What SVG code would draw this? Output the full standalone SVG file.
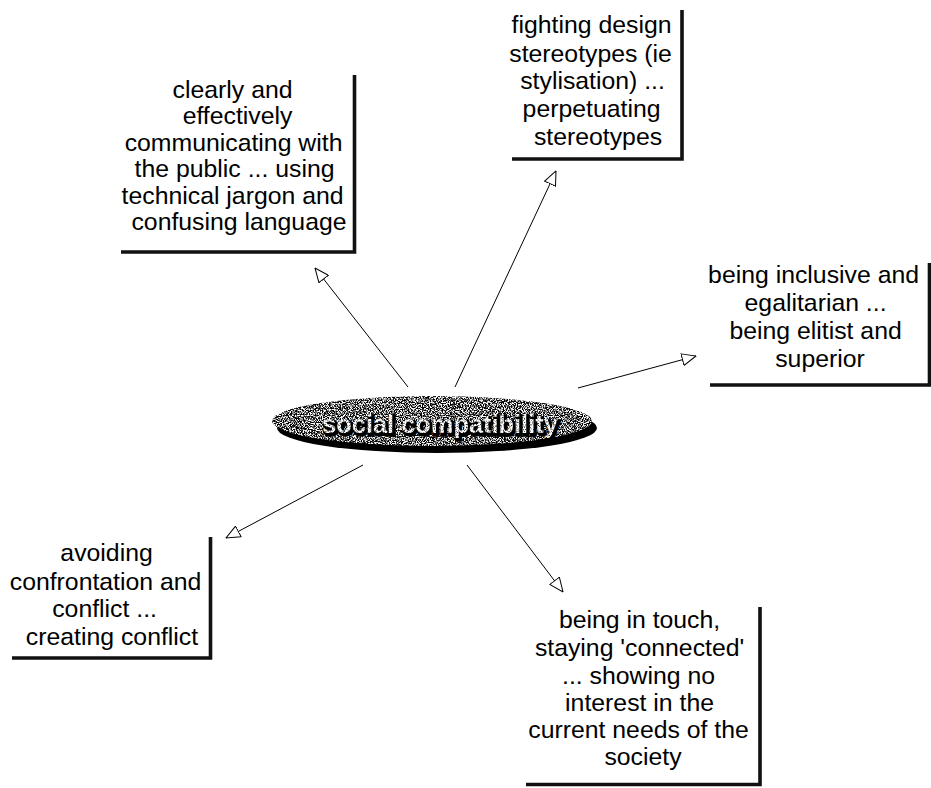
<svg xmlns="http://www.w3.org/2000/svg" width="931" height="788" viewBox="0 0 931 788">
  <style>
    .lbl { font-family: "Liberation Sans", Arial, sans-serif; font-size: 24.8px; fill: #000; text-anchor: middle; }
    .frame { fill: none; stroke: #111; stroke-width: 3.6; stroke-linejoin: miter; }
    .link { fill: none; stroke: #000; stroke-width: 1; marker-end: url(#open-tri); }
    .hub-text { font-family: "Liberation Sans", Arial, sans-serif; font-size: 25.4px; font-weight: bold; text-anchor: middle; }
  </style>
  <defs>
    <!-- open triangular arrowhead -->
    <marker id="open-tri" viewBox="0 0 15 13" refX="14.5" refY="6.5" markerWidth="15" markerHeight="13" markerUnits="userSpaceOnUse" orient="auto">
      <path d="M0.5,0.5 L14.5,6.5 L0.5,12.5 Z" fill="#fff" stroke="#000" stroke-width="1"/>
    </marker>
    <!-- speckled dark grain for the hub ellipse -->
    <filter id="grain-dark" x="0" y="0" width="100%" height="100%" color-interpolation-filters="sRGB">
      <feTurbulence type="fractalNoise" baseFrequency="0.85" numOctaves="2" seed="7" result="noise"/>
      <feColorMatrix in="noise" type="matrix" values="1 0 0 0 0  1 0 0 0 0  1 0 0 0 0  0 0 0 0 1" result="gray"/>
      <feComponentTransfer in="gray" result="bin">
        <feFuncR type="linear" slope="5" intercept="-2.1"/>
        <feFuncG type="linear" slope="5" intercept="-2.1"/>
        <feFuncB type="linear" slope="5" intercept="-2.1"/>
      </feComponentTransfer>
      <feComposite in="bin" in2="SourceGraphic" operator="in"/>
    </filter>
    <!-- lighter speckle for the hub lettering -->
    <filter id="grain-light" x="0" y="0" width="100%" height="100%" color-interpolation-filters="sRGB">
      <feTurbulence type="fractalNoise" baseFrequency="0.9" numOctaves="2" seed="11" result="noise"/>
      <feColorMatrix in="noise" type="matrix" values="1 0 0 0 0  1 0 0 0 0  1 0 0 0 0  0 0 0 0 1" result="gray"/>
      <feComponentTransfer in="gray" result="bin">
        <feFuncR type="linear" slope="3" intercept="-0.55"/>
        <feFuncG type="linear" slope="3" intercept="-0.55"/>
        <feFuncB type="linear" slope="3" intercept="-0.55"/>
      </feComponentTransfer>
      <feComposite in="bin" in2="SourceGraphic" operator="in"/>
    </filter>
  </defs>

  <rect width="931" height="788" fill="#fff"/>

  <!-- connectors from the hub out to each pole -->
  <g id="connectors">
    <line class="link" x1="408" y1="387" x2="315" y2="268"/>
    <line class="link" x1="455" y1="387" x2="556" y2="171"/>
    <line class="link" x1="578" y1="388" x2="696" y2="356"/>
    <line class="link" x1="363" y1="465" x2="226" y2="538"/>
    <line class="link" x1="467" y1="465" x2="563" y2="592"/>
  </g>

  <!-- hub -->
  <g id="hub">
    <ellipse cx="437" cy="428" rx="160" ry="25" fill="#000"/>
    <ellipse cx="432" cy="421" rx="160" ry="25" fill="#000" filter="url(#grain-dark)"/>
    <text class="hub-text" x="441.5" y="434.5" fill="#000" stroke="#000" stroke-width="3.5">social compatibility</text>
    <text class="hub-text" x="440" y="433" fill="#000" filter="url(#grain-light)">social compatibility</text>
  </g>

  <g id="node-communication">
    <path class="frame" d="M121,252 H354.5 V75"/>
    <text class="lbl">
      <tspan x="236" y="98">clearly and</tspan>
      <tspan x="241" y="124">effectively</tspan>
      <tspan x="237" y="151">communicating with</tspan>
      <tspan x="238" y="177">the public ... using</tspan>
      <tspan x="236" y="204">technical jargon and</tspan>
      <tspan x="239" y="230">confusing language</tspan>
    </text>
  </g>

  <g id="node-stereotypes">
    <path class="frame" d="M512,159 H682 V10"/>
    <text class="lbl">
      <tspan x="595" y="33">fighting design</tspan>
      <tspan x="594" y="62">stereotypes (ie</tspan>
      <tspan x="596" y="89">stylisation) ...</tspan>
      <tspan x="595" y="117">perpetuating</tspan>
      <tspan x="598" y="145">stereotypes</tspan>
    </text>
  </g>

  <g id="node-inclusive">
    <path class="frame" d="M710,385 H929.5 V263"/>
    <text class="lbl">
      <tspan x="817" y="283">being inclusive and</tspan>
      <tspan x="819" y="311">egalitarian ...</tspan>
      <tspan x="819" y="339">being elitist and</tspan>
      <tspan x="820" y="367">superior</tspan>
    </text>
  </g>

  <g id="node-conflict">
    <path class="frame" d="M12,658 H210.5 V537"/>
    <text class="lbl">
      <tspan x="110" y="561">avoiding</tspan>
      <tspan x="109" y="590">confrontation and</tspan>
      <tspan x="108" y="617">conflict ...</tspan>
      <tspan x="112" y="645">creating conflict</tspan>
    </text>
  </g>

  <g id="node-connected">
    <path class="frame" d="M526,784.5 H760 V607"/>
    <text class="lbl">
      <tspan x="643" y="628">being in touch,</tspan>
      <tspan x="643" y="656">staying 'connected'</tspan>
      <tspan x="642" y="684">... showing no</tspan>
      <tspan x="643" y="711">interest in the</tspan>
      <tspan x="642" y="738">current needs of the</tspan>
      <tspan x="643" y="765">society</tspan>
    </text>
  </g>
</svg>
